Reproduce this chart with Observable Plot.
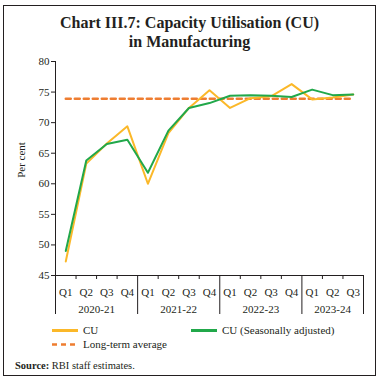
<!DOCTYPE html>
<html>
<head>
<meta charset="utf-8">
<script src="https://cdn.jsdelivr.net/npm/d3@7"></script>
<script src="https://cdn.jsdelivr.net/npm/@observablehq/plot@0.6"></script>
<style>
  html, body { margin: 0; padding: 0; background: #fff; }
  #wrap { position: relative; width: 379px; height: 381px; overflow: hidden; font-family: "Liberation Serif", serif; color: #231F20; }
  #frame { position: absolute; left: 3px; top: 5px; width: 371px; height: 369px; border: 1.5px solid #231F20; }
  #title { position: absolute; left: 3px; width: 373px; top: 13px; text-align: center; font-weight: bold; font-size: 16px; line-height: 19px; }
  #chart { position: absolute; left: 0; top: 0; }
  .leg { position: absolute; font-size: 11px; line-height: 13px; white-space: nowrap; }
  .leg svg { position: absolute; left: 0; top: 0; }
  .leg span { position: absolute; left: 31px; top: 0; }
  #source { position: absolute; left: 15px; top: 360px; font-size: 10.5px; }
</style>
</head>
<body>
<div id="wrap">
  <div id="frame"></div>
  <div id="title">Chart III.7: Capacity Utilisation (CU)<br>in Manufacturing</div>
  <div id="chart"></div>
  <div class="leg" style="left:52px; top:324px;"><svg width="28" height="13"><line x1="0" x2="26" y1="6.5" y2="6.5" stroke="#FBB829" stroke-width="3"/></svg><span>CU</span></div>
  <div class="leg" style="left:191px; top:324px;"><svg width="28" height="13"><line x1="0" x2="26" y1="6.5" y2="6.5" stroke="#21A84A" stroke-width="3"/></svg><span>CU (Seasonally adjusted)</span></div>
  <div class="leg" style="left:52px; top:338px;"><svg width="28" height="13"><line x1="0" x2="26" y1="6.5" y2="6.5" stroke="#EE7D31" stroke-width="2.5" stroke-dasharray="5,4"/></svg><span>Long-term average</span></div>
  <div id="source"><b>Source:</b> RBI staff estimates.</div>
</div>
<script>
const quarters = ["Q1","Q2","Q3","Q4","Q1","Q2","Q3","Q4","Q1","Q2","Q3","Q4","Q1","Q2","Q3"];
const years = ["2020-21","2021-22","2022-23","2023-24"];
const yearQuarters = [4, 4, 4, 3];
const cu = [47.3, 63.3, 66.6, 69.4, 60.0, 68.3, 72.4, 75.3, 72.4, 74.0, 74.3, 76.3, 73.8, 74.1, 74.6];
const cuSA = [49.0, 63.8, 66.5, 67.2, 61.8, 68.7, 72.4, 73.2, 74.4, 74.5, 74.4, 74.2, 75.4, 74.5, 74.6];
const longTermAvg = 73.9;
const yTicks = [45, 50, 55, 60, 65, 70, 75, 80];

const ink = "#231F20";
const yMin = 45, yMax = 80;

const rows = (vals) => vals.map((v, i) => ({pos: i + 0.5, v}));
const qRows = quarters.map((q, i) => ({pos: i + 0.5, q}));
let acc = 0;
const boundaries = [0];
const yearRows = years.map((y, k) => {
  const start = acc; acc += yearQuarters[k]; boundaries.push(acc);
  return {pos: (start + acc) / 2, y};
});
const smallTicks = d3.range(1, acc).filter(t => !boundaries.includes(t));
const ltaRows = [{pos: 0.5, v: longTermAvg}, {pos: quarters.length - 0.5, v: longTermAvg}];

const plot = Plot.plot({
  width: 379,
  height: 320,
  marginLeft: 55,
  marginRight: 16,
  marginTop: 61,
  marginBottom: 45,
  style: {fontFamily: "Liberation Serif, serif", fontSize: "11px", color: ink, background: "transparent", overflow: "visible"},
  x: {domain: [0, quarters.length], axis: null},
  y: {domain: [yMin, yMax], axis: null},
  marks: [
    Plot.axisY({ticks: yTicks, tickSize: 4, tickPadding: 2, label: null, stroke: ink, fill: ink}),
    Plot.ruleX([0], {stroke: ink, strokeWidth: 1}),
    Plot.ruleY([yMin], {stroke: ink, strokeWidth: 1}),
    Plot.ruleX(smallTicks, {x: d => d, y1: yMin, y2: yMin, insetBottom: -4, stroke: ink}),
    Plot.ruleX(boundaries, {x: d => d, y1: yMin, y2: yMin, insetBottom: -39, stroke: ink}),
    Plot.text(qRows, {x: "pos", y: () => yMin, text: "q", dy: 17, fill: ink}),
    Plot.text(yearRows, {x: "pos", y: () => yMin, text: "y", dy: 34, fill: ink}),
    Plot.line(ltaRows, {x: "pos", y: "v", stroke: "#EE7D31", strokeWidth: 2.5, strokeDasharray: "5,4"}),
    Plot.line(rows(cu), {x: "pos", y: "v", stroke: "#FBB829", strokeWidth: 2}),
    Plot.line(rows(cuSA), {x: "pos", y: "v", stroke: "#21A84A", strokeWidth: 2})
  ]
});
document.getElementById("chart").appendChild(plot);

// y-axis title
const svg = d3.select(plot);
svg.append("text")
  .attr("transform", "translate(22,160) rotate(-90)")
  .attr("text-anchor", "middle")
  .attr("dominant-baseline", "middle")
  .attr("fill", ink)
  .style("font-size", "11px")
  .text("Per cent");
</script>
</body>
</html>
